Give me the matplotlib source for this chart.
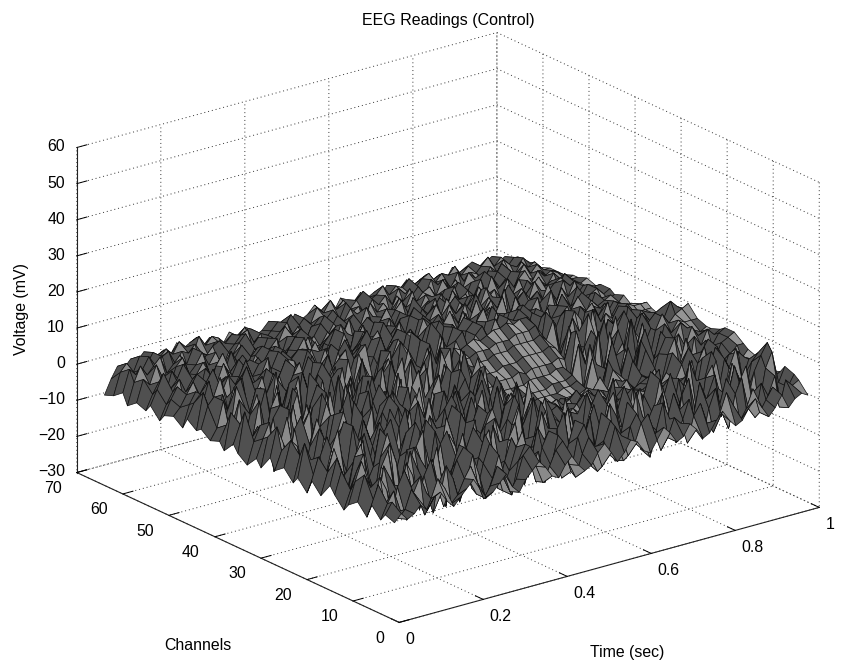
import numpy as np
import matplotlib
matplotlib.use('Agg')
import matplotlib.pyplot as plt
from matplotlib.colors import LightSource

plt.rcParams['font.family'] = ['Liberation Sans', 'DejaVu Sans']

time_sec = [0.000,0.016,0.031,0.047,0.062,0.078,0.094,0.109,0.125,0.141,0.156,0.172,0.188,0.203,0.219,0.234,
            0.250,0.266,0.281,0.297,0.312,0.328,0.344,0.359,0.375,0.391,0.406,0.422,0.438,0.453,0.469,0.484,
            0.500,0.516,0.531,0.547,0.562,0.578,0.594,0.609,0.625,0.641,0.656,0.672,0.688,0.703,0.719,0.734,
            0.750,0.766,0.781,0.797,0.812,0.828,0.844,0.859,0.875,0.891,0.906,0.922,0.938,0.953,0.969,0.984]
channels = [1,3,4,6,7,9,11,12,14,15,17,19,20,22,23,25,27,28,30,31,33,35,36,38,39,41,43,44,46,47,49,51,52,54,55,57,59,60,62,64]
voltage = [
[-3,-1,-3,-2,0,-2,1,2, -1,-3,-1,1,3,0,-3,-2, 0,2,-2,-4,-1,1,3,1, -2,-3,0,2,-1,-3,-2,1, 3,0,-3,-1,2,1,-2,-3, 0,3,1,-2,-1,2,0,-3, -2,1,3,0,-2,-1,2,4, 1,-2,0,3,-1,1,2,1],
[-2,1,-4,-2,3,0,-5,-1, 4,1,-4,-2,2,5,0,-5, -2,3,1,-5,-2,4,6,0, -5,-1,3,5,-2,-6,0,4, 1,-5,-2,5,2,-4,-1,4, 6,0,-5,-2,3,1,-5,2, 5,-1,-4,1,6,2,-3,0, 5,-2,1,4,-2,5,3,4],
[-4,0,3,-3,-6,1,5,0, -6,-2,6,2,-5,0,7,1, -6,-1,5,-3,-7,2,6,-1, 3,-6,-2,6,1,-5,4,7, -3,-7,1,6,-1,-6,3,6, -2,-7,0,7,2,-5,1,6, -3,-6,2,7,0,-5,4,8, -1,-4,5,1,6,-3,2,5],
[-1,4,-2,-6,2,6,1,-5, 3,7,-1,-7,0,5,8,-2, -6,2,7,0,-7,-2,4,8, 0,-7,2,6,-3,-8,1,7, 3,-6,-2,7,2,-7,0,8, 3,-6,1,5,-5,0,7,2, -6,-1,8,3,-5,0,7,-2, 5,9,1,-3,7,11,2,6],
[-5,-1,5,1,-6,-2,7,3, -7,-1,6,-3,-8,2,8,1, -5,3,9,-1,-7,0,6,2, -8,-2,7,3,-4,5,9,-3, -8,0,6,-5,-1,8,4,-7, 0,9,2,-6,-1,7,-3,-7, 5,9,0,-5,3,8,-4,1, 9,3,-2,6,10,13,3,4],
[-2,5,1,-5,6,2,-7,-1, 8,3,-6,0,7,-4,-8,3, 9,1,-7,5,8,-2,-7,4, 8,-3,-8,0,9,4,-6,1, 8,-4,-8,2,7,-3,6,9, -1,-7,3,8,-5,0,9,3, -6,1,7,-4,-7,6,9,2, -3,8,4,-2,7,9,1,3],
[-4,2,7,-3,-7,4,8,-2, -7,1,7,3,-8,-2,6,9, -4,-7,3,8,-1,-6,7,2, -5,4,10,-2,-7,3,7,-5, 0,9,3,-7,-2,5,9,-4, -7,2,8,-2,-6,4,10,-3, 2,8,-5,-1,10,4,-6,3, 8,-3,5,10,1,6,3,2],
[-6,-1,4,8,-1,-6,2,9, 3,-7,-3,6,10,-4,-8,1, 7,3,-6,0,9,-5,-2,8, 3,-7,1,5,-6,0,9,4, -7,-2,6,-4,-7,8,3,-5, 2,10,-3,-7,6,1,-5,7, 9,-3,-6,5,2,9,-4,3, 10,-2,7,3,8,6,5,5],
[-3,3,-4,6,9,-3,-7,4, 10,-2,-6,4,-5,8,2,-7, -1,10,4,-5,7,-3,-8,5, 9,-1,-6,3,8,-2,-7,2, 8,4,-2,0,2,1,-1,0, 3,1,-2,-1,2,3,-1,1, 0,-2,2,4,-1,0,6,-3, 7,3,9,1,6,7,4,6],
[-1,6,1,-6,4,9,-2,-7, 2,7,-4,-8,3,10,-2,-6, 6,1,-8,-2,9,5,-6,2, 7,-4,-7,4,10,-3,-5,8, 2,-6,1,-1,0,2,0,-2, 1,3,0,-1,1,-2,0,2, 1,-1,3,0,-2,1,2,-3, 5,9,2,8,4,5,7,7],
[-5,1,7,-3,-6,2,8,-5, -1,9,3,-7,0,6,-6,-3, 8,2,-5,5,10,-3,-7,3, 8,1,-7,-2,6,9,-4,0, 6,-2,-1,1,2,0,-1,1, 3,0,-2,1,-1,0,2,1, -2,0,1,3,-2,1,0,4, 8,-2,6,9,3,7,8,9],
[-2,4,-3,5,10,-3,-8,2, 7,-6,-2,6,9,-2,-8,3, 1,-6,7,3,-7,1,8,-1, -5,5,10,-3,-7,2,7,-5, -2,9,-3,1,2,1,-1,0, -2,1,2,0,1,-2,1,0, 2,-1,0,1,2,-2,1,6, 2,9,4,-1,7,5,8,9],
[-6,-2,3,8,2,-7,-3,9, 4,-7,2,8,-3,-6,5,10, -1,-8,2,5,-3,7,10,-5, 0,8,-2,-8,1,9,3,-6, 8,2,-6,-2,-1,0,1,-1, 0,2,-1,1,-2,0,-1,2, 1,0,-2,1,0,2,-2,5, 9,3,-3,8,5,9,7,8],
[-3,6,1,-6,6,-2,4,9, -3,-5,8,2,-7,0,9,-6, -2,7,-6,0,9,2,-7,4, 9,-3,-6,6,10,-4,-2,7, 1,-6,3,-4,-3,-5,-2,-3, -1,-2,-1,-2,0,-1,2,-3, 3,1,-3,4,0,6,-2,4, 8,-2,8,4,9,6,7,7],
[-5,2,-6,-1,8,3,-6,1, 8,2,-7,4,10,-3,-7,2, 8,3,-3,8,3,-6,1,9, 4,-7,2,7,-1,-8,4,9, -4,0,6,-6,-6,-6,-5,-5, -5,-5,-4,-4,-4,-3,-3,-4, 5,-4,0,7,-3,8,-5,2, 9,1,6,10,8,7,6,7],
[-2,5,3,-5,2,9,-4,-7, 3,9,-3,-1,6,-5,-8,6, 10,-2,-7,4,8,-1,-5,7, 0,-7,8,3,-6,1,10,-4, -7,5,-6,-7,-7,-6,-6,-6, -5,-5,-5,-4,-4,-4,-3,5, -6,1,8,-3,5,-6,4,9, -3,2,9,6,9,8,8,8],
[-4,1,-4,6,9,-1,-6,4, -2,7,3,-6,9,2,-7,-1, 6,-3,9,5,-6,1,8,-4, 6,10,-2,-7,4,7,-3,-6, 9,-2,-5,-5,-6,-5,-5,-5, -4,-4,-4,-4,-3,-3,-2,-5, 7,1,-4,9,2,5,-5,1, 9,-2,6,10,7,9,10,11],
[-1,7,2,-3,-6,5,9,-2, -5,6,1,8,-4,-7,5,10, -3,-1,6,-5,2,8,-6,3, -4,8,3,-6,0,9,-5,2, 8,1,-4,-4,-4,-4,-4,-3, -3,-3,-3,-2,-2,-2,-1,7, 1,-6,9,-4,2,8,-3,10, 3,2,6,-2,8,12,10,9],
[-5,3,-7,1,7,-4,3,9, -5,2,8,-5,5,-6,1,8, -6,5,9,-5,-2,7,-6,6, 10,2,-6,5,-5,7,2,-6, 4,9,-3,-3,-3,-2,-2,-2, -2,-1,-1,-1,-1,0,0,-5, 9,2,-3,6,-5,3,10,-2, 8,4,9,6,8,9,7,8],
[-3,2,6,-5,-7,8,-1,-4, 7,-3,10,1,-7,4,9,-5, 2,10,-6,1,6,-3,8,-6, 2,-3,9,-6,3,8,-3,9, -6,0,-2,-1,-1,0,0,0, 1,0,1,1,1,1,2,1, 8,-4,3,7,3,9,-3,6, 10,1,7,8,5,7,6,6],
[-6,0,4,-3,5,8,-5,7, -3,-4,5,-7,8,-2,-5,9, 4,-7,0,9,-3,4,-6,8, -1,-7,5,9,-2,-6,7,3, -1,9,3,0,1,1,1,2, 2,2,3,3,3,3,4,3, -3,8,2,-5,10,1,-2,7, 5,-3,9,2,7,6,5,4],
[-4,7,-1,2,-5,6,10,-4, 3,8,-7,4,9,-3,6,-7, -2,7,-4,8,3,-6,9,-2, 6,10,-3,-7,6,1,-5,9, 3,-6,8,3,2,3,3,4, 4,4,5,5,5,5,6,4, 9,-2,3,8,4,-4,9,-2, 7,5,8,4,6,5,5,5],
[-2,3,-6,-1,8,-2,4,7, -6,9,-1,-5,4,8,-2,-5, 9,3,-4,5,-6,3,7,-5, 9,2,-6,8,3,-4,9,-5, 5,8,-4,4,4,5,5,5, 6,6,6,7,7,7,8,5, 2,7,-3,4,9,6,-2,8, 4,9,2,5,7,6,6,6],
[-5,5,2,-4,3,8,-5,1, 9,-3,4,7,-5,10,-2,7, -4,1,9,-3,-6,10,1,-5, 4,8,-6,1,9,-4,3,8, -2,7,-3,6,5,6,7,6, 7,8,8,9,8,9,9,7, -2,9,5,-3,8,5,-2,6, 8,4,7,3,6,4,5,4],
[-3,1,-5,7,4,-6,2,8, -2,6,-5,3,9,-6,1,8, -3,6,8,-4,5,-2,7,3, -5,6,9,-1,-4,7,3,-5, 8,2,9,-1,7,9,3,7, 9,5,10,6,9,8,3,8, 1,7,9,2,6,8,1,7, 5,6,5,3,6,5,4,3],
[-4,-1,6,-3,9,-3,1,7, 5,-6,10,-2,6,-5,8,2, 5,9,-2,7,-3,8,-3,6, 1,-2,8,3,-6,9,5,-1, 8,5,-1,8,4,9,-2,7, 9,2,8,4,9,2,6,9, 1,7,3,6,4,7,3,5,  8,2,6,4,5,6,3,5],
[-2,4,6,-4,1,7,9,-4, 2,5,3,8,-4,2,6,9, -3,8,-2,1,5,7,9,-3, 7,9,-3,2,6,3,8,-2, 9,7,3,10,-1,8,4,6, 9,-1,7,10,3,8,2,7, 5,8,2,6,3,6,4,8, 2,5,7,1,6,4,3,4],
[-3,7,2,-2,5,-1,6,8, -3,3,7,-2,6,3,-2,7, 4,9,-2,3,8,2,7,-1, 5,8,-1,4,9,4,7,1, 8,6,3,8,5,9,1,7, 4,9,2,8,4,9,3,6, 1,7,3,5,8,2,9,4, 6,3,8,2,5,6,4,5],
[-1,3,5,-2,3,8,2,-2, 5,9,4,1,7,-2,4,8, 5,-1,3,7,3,8,1,6, 9,4,-1,3,7,9,2,5, 8,3,7,4,9,7,2,6, 9,3,8,5,10,3,7,5, 9,2,8,4,6,3,5,9, 2,7,4,8,3,6,5,5],
[-4,2,5,1,7,-1,3,7, 4,6,-1,3,5,9,1,4, 7,6,2,8,4,1,7,-1, 5,8,3,6,9,4,7,1, 5,9,5,2,8,2,6,8, 5,7,4,9,6,2,5,8, 5,10,3,6,8,5,7,4, 6,3,8,6,3,5,4,4],
[-2,0,3,6,2,5,8,3, 5,1,4,8,3,6,1,4, 8,2,5,7,2,6,5,2, 6,3,8,2,4,7,5,3, 8,4,6,1,8,3,7,5, 9,2,8,5,7,4,9,3, 7,2,6,9,4,7,3,8, 5,4,6,7,3,5,4,5],
[-3,1,4,-1,3,6,1,5, 2,7,3,-1,5,6,2,4, 7,1,6,3,-2,5,3,6, 1,4,8,3,-1,6,4,2, 7,3,5,-1,6,4,8,2, 5,7,3,8,2,6,4,7, 3,8,5,2,6,4,8,3, 5,7,4,5,3,6,4,4],
[-5,-1,2,5,1,4,-1,6, 3,1,5,2,6,-1,3,5, 1,6,3,5,0,4,7,2, -1,4,6,2,5,0,3,6, 2,5,1,6,3,-1,5,2, 6,4,8,2,5,7,3,6, 2,7,4,6,3,8,5,2, 6,4,5,3,6,4,3,4],
[-2,2,6,1,3,7,0,3, 6,-1,4,7,1,3,5,0, 4,6,2,5,-1,3,6,2, 5,-1,2,5,1,6,3,0, 4,6,2,4,7,1,5,3, 8,2,5,3,6,2,7,4, 5,1,6,3,8,4,6,2, 5,7,3,6,4,5,4,3],
[-4,0,3,-1,5,2,6,1, 2,5,0,4,1,6,2,-1, 3,5,1,4,6,0,3,5, 0,4,1,-1,3,5,2,6, 1,3,5,0,4,2,5,7, 3,6,1,5,2,6,3,7, 2,5,3,7,2,6,3,5, 2,6,4,3,5,3,4,3],
[-3,3,1,6,2,-1,4,6, 1,3,6,2,5,0,4,2, 5,0,3,1,5,2,-1,4, 3,5,0,2,5,1,4,-1, 3,5,1,6,3,1,4,2, 6,3,7,1,5,4,2,5, 3,6,1,5,4,7,3,6, 2,5,3,6,3,5,3,3],
[-5,1,5,2,4,6,1,3, 5,2,6,1,3,5,6,2, 1,4,6,2,4,0,3,1, 5,2,4,-1,3,2,5,1, 4,2,5,3,0,5,2,4, 1,5,3,6,2,4,5,2, 6,3,5,2,6,4,1,5, 3,6,4,2,5,3,4,2],
[-2,4,2,3,6,3,5,6, 2,5,4,6,3,2,5,4, 1,3,5,6,2,4,3,1, 3,5,1,3,-1,2,4,3, 5,2,6,3,4,1,5,3, 5,2,6,4,3,5,2,6, 4,5,2,6,3,5,4,2, 5,3,6,4,3,5,3,2],
[-4,2,4,1,5,2,5,3, 5,3,6,4,1,6,3,5, 4,2,4,3,5,4,2,0, 2,4,2,5,1,3,1,5, 3,6,3,5,2,4,6,3, 4,6,3,5,4,6,3,5, 6,3,5,4,6,3,5,2, 4,6,3,5,2,4,2,2],
[-5,-1,2,1,3,2,4,1, 2,3,1,4,2,3,4,1, 3,2,0,3,1,-1,2,0, 1,3,1,2,0,3,1,2, 4,2,3,1,4,3,2,4, 2,3,1,4,3,2,4,2, 3,4,2,3,1,4,2,3, 4,2,3,4,2,3,2,2],
]
xticks = [0, 0.2, 0.4, 0.6, 0.8, 1]
yticks = [0, 10, 20, 30, 40, 50, 60, 70]
zticks = [-30, -20, -10, 0, 10, 20, 30, 40, 50, 60]

fig = plt.figure(figsize=(8.41, 6.68), dpi=100)
ax = fig.add_axes([18.5/841, -2.5/668, 1, 1], projection='3d', proj_type='ortho')
ax.view_init(elev=20.9, azim=-127.5)
ax.set_box_aspect((1, 1, 0.657), zoom=1.2)
ax.set_xlim(0, 1); ax.set_ylim(0, 70); ax.set_zlim(-30, 60)
X, Y = np.meshgrid(time_sec, channels)
Z = np.array(voltage, float)
ls = LightSource(azdeg=100, altdeg=60)
surf = ax.plot_surface(X, Y, Z, rstride=1, cstride=1, color='#a8a8a8', edgecolor='#101010', linewidth=0.5, lightsource=ls, shade=True)
surf.set_clip_on(False)
ax.set_xticks(xticks); ax.set_yticks(yticks); ax.set_zticks(zticks)
ax.set_xticklabels(['0', '0.2', '0.4', '0.6', '0.8', '1'])
for a in (ax.xaxis, ax.yaxis, ax.zaxis):
    a.set_pane_color((1, 1, 1, 1))
    a.line.set_color('#222222'); a.line.set_linewidth(0.8)
    a._axinfo['grid'].update(color='#333333', linewidth=0.7, linestyle=(0, (1, 3)))
    a._axinfo['tick'].update(inward_factor=0.0, outward_factor=0.3, linewidth={True: 0.7, False: 0.5})
ax.tick_params(axis='x', labelsize=11.4, pad=-3)
ax.tick_params(axis='y', labelsize=11.4, pad=1)
ax.tick_params(axis='z', labelsize=11.4, pad=-4)
plt.setp(ax.get_xticklabels(), ha='left', va='top')
plt.setp(ax.get_yticklabels(), ha='right', va='center')
plt.setp(ax.get_zticklabels(), ha='right', va='center')
ax.zaxis.set_ticks_position('upper')
fig.text(448/841, 1-20/668, 'EEG Readings (Control)', ha='center', va='center', fontsize=11.5)
fig.text(198/841, 1-645/668, 'Channels', ha='center', va='center', fontsize=11.4)
fig.text(627/841, 1-653/668, 'Time (sec)', ha='center', va='center', fontsize=11.4)
fig.text(22/841, 1-309/668, 'Voltage (mV)', ha='center', va='center', rotation=90, fontsize=11.4)
fig.savefig('out.png', dpi=100)
